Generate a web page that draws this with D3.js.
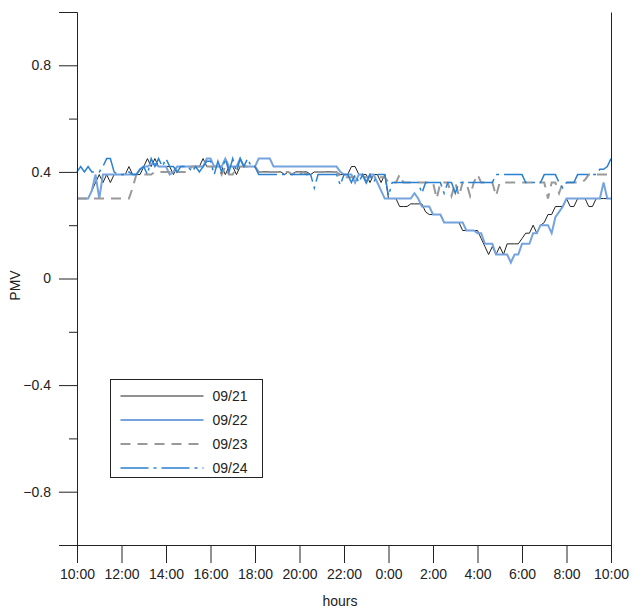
<!DOCTYPE html>
<html>
<head>
<meta charset="utf-8">
<script src="https://cdn.jsdelivr.net/npm/d3@7"></script>
<style>
  body { margin: 0; background: #fff; }
  text { font-family: "Liberation Sans", Arial, sans-serif; fill: #222; }
</style>
</head>
<body>
<div id="chart"></div>
<script>
// PMV readings every 10 minutes, 10:00 -> 10:00 next day (one row per hour)
const s0921 = [
  0.30,0.30,0.30,0.30,0.33,0.36, 0.39,0.36,0.39,0.36,0.39,0.39, 0.39,0.39,0.42,0.39,0.39,0.39,
  0.42,0.45,0.42,0.45,0.42,0.42, 0.42,0.42,0.39,0.42,0.42,0.42, 0.42,0.42,0.42,0.42,0.45,0.42,
  0.42,0.42,0.42,0.42,0.39,0.42, 0.42,0.39,0.42,0.42,0.42,0.42, 0.42,0.40,0.40,0.40,0.40,0.40,
  0.40,0.40,0.39,0.40,0.39,0.40, 0.40,0.40,0.40,0.39,0.40,0.40, 0.40,0.40,0.40,0.40,0.40,0.39,
  0.39,0.39,0.42,0.42,0.39,0.39, 0.39,0.36,0.39,0.39,0.36,0.39, 0.30,0.30,0.30,0.27,0.27,0.27,
  0.28,0.28,0.28,0.28,0.25,0.24, 0.24,0.24,0.24,0.21,0.21,0.21, 0.21,0.21,0.18,0.18,0.18,0.18,
  0.18,0.15,0.12,0.09,0.12,0.09, 0.12,0.09,0.13,0.13,0.13,0.13, 0.15,0.17,0.17,0.20,0.17,0.20,
  0.21,0.24,0.24,0.27,0.27,0.27, 0.30,0.27,0.27,0.30,0.30,0.30, 0.27,0.27,0.30,0.30,0.30,0.30,
  0.30
];
const s0922 = [
  0.30,0.30,0.30,0.30,0.33,0.39, 0.30,0.39,0.39,0.39,0.39,0.39, 0.39,0.39,0.39,0.39,0.39,0.41,
  0.42,0.42,0.43,0.43,0.42,0.42, 0.42,0.39,0.40,0.42,0.42,0.42, 0.42,0.42,0.42,0.42,0.42,0.45,
  0.45,0.42,0.42,0.42,0.45,0.42, 0.42,0.42,0.45,0.42,0.42,0.42, 0.42,0.45,0.45,0.45,0.45,0.42,
  0.42,0.42,0.42,0.42,0.42,0.42, 0.42,0.42,0.42,0.42,0.42,0.42, 0.42,0.42,0.42,0.42,0.42,0.40,
  0.39,0.39,0.39,0.36,0.39,0.39, 0.36,0.39,0.39,0.36,0.33,0.30, 0.30,0.30,0.30,0.30,0.30,0.30,
  0.30,0.32,0.30,0.27,0.27,0.27, 0.24,0.24,0.24,0.21,0.21,0.21, 0.21,0.21,0.21,0.18,0.18,0.18,
  0.17,0.17,0.13,0.13,0.13,0.09, 0.09,0.09,0.09,0.06,0.09,0.09, 0.13,0.13,0.13,0.17,0.17,0.20,
  0.20,0.20,0.17,0.23,0.25,0.27, 0.30,0.30,0.30,0.30,0.30,0.30, 0.30,0.30,0.30,0.30,0.36,0.30,
  0.30
];
const s0923 = [
  0.30,0.30,0.30,0.30,0.30,0.30, 0.30,0.30,0.30,0.30,0.30,0.30, 0.30,0.30,0.30,0.34,0.39,0.39,
  0.39,0.39,0.39,0.40,0.40,0.40, 0.40,0.40,0.39,0.40,0.40,0.40, 0.40,0.42,0.42,0.42,0.42,0.42,
  0.42,0.42,0.42,0.39,0.42,0.39, 0.39,0.42,0.42,0.42,0.42,0.42, 0.42,0.40,0.40,0.40,0.40,0.40,
  0.40,0.40,0.40,0.40,0.39,0.40, 0.39,0.40,0.39,0.40,0.40,0.40, 0.40,0.40,0.40,0.40,0.40,0.38,
  0.38,0.38,0.38,0.38,0.38,0.38, 0.38,0.38,0.38,0.38,0.38,0.38, 0.36,0.36,0.36,0.39,0.36,0.36,
  0.36,0.36,0.36,0.36,0.36,0.36, 0.36,0.30,0.36,0.36,0.36,0.31, 0.36,0.31,0.36,0.36,0.31,0.36,
  0.39,0.36,0.36,0.36,0.36,0.31, 0.36,0.36,0.36,0.36,0.36,0.36, 0.36,0.36,0.36,0.36,0.36,0.36,
  0.36,0.30,0.36,0.36,0.32,0.36, 0.36,0.36,0.36,0.36,0.36,0.37, 0.39,0.39,0.39,0.39,0.39,0.39,
  0.39
];
const s0924 = [
  0.40,0.42,0.40,0.42,0.40,0.40, 0.40,0.42,0.45,0.45,0.40,0.39, 0.39,0.39,0.40,0.39,0.39,0.41,
  0.42,0.39,0.45,0.42,0.45,0.42, 0.45,0.42,0.42,0.40,0.42,0.42, 0.42,0.40,0.42,0.40,0.42,0.44,
  0.44,0.39,0.44,0.40,0.45,0.40, 0.45,0.40,0.45,0.42,0.45,0.42, 0.42,0.39,0.39,0.39,0.39,0.39,
  0.39,0.39,0.39,0.39,0.39,0.39, 0.39,0.39,0.39,0.39,0.34,0.39, 0.39,0.39,0.39,0.39,0.39,0.35,
  0.39,0.39,0.36,0.39,0.36,0.39, 0.36,0.39,0.36,0.39,0.39,0.39, 0.31,0.36,0.36,0.36,0.36,0.36,
  0.36,0.36,0.36,0.32,0.36,0.36, 0.36,0.36,0.36,0.32,0.36,0.36, 0.32,0.36,0.36,0.36,0.36,0.36,
  0.36,0.36,0.36,0.36,0.36,0.39, 0.39,0.39,0.39,0.39,0.39,0.39, 0.39,0.36,0.36,0.36,0.36,0.36,
  0.39,0.39,0.39,0.39,0.36,0.34, 0.36,0.36,0.36,0.39,0.39,0.39, 0.39,0.39,0.39,0.41,0.41,0.42,
  0.45
];

const dayLabels = ["09/21", "09/22", "09/23", "09/24"];
const xTickLabels = ["10:00","12:00","14:00","16:00","18:00","20:00","22:00",
                     "0:00","2:00","4:00","6:00","8:00","10:00"];
const yMajorTicks = [-0.8, -0.4, 0, 0.4, 0.8];
const yMinorTicks = [-1, -0.6, -0.2, 0.2, 0.6, 1];

const width = 632, height = 610;
const margin = {top: 12, right: 21, bottom: 65, left: 77};
const plotW = width - margin.left - margin.right;
const plotH = height - margin.top - margin.bottom;

const styles = [
  {color: "#222222", width: 1,   dash: null},
  {color: "#74a3de", width: 2,   dash: null},
  {color: "#999999", width: 2,   dash: "10,7"},
  {color: "#2a80d0", width: 1.5, dash: "28,5,3,5"}
];

const series = [s0921, s0922, s0923, s0924];

const svg = d3.select("#chart")
  .append("svg")
  .attr("width", width)
  .attr("height", height)
  .append("g")
  .attr("transform", `translate(${margin.left}, ${margin.top})`);

// hours since 10:00
const x = d3.scaleLinear().domain([0, 24]).range([0, plotW]);
const y = d3.scaleLinear().domain([-1, 1]).range([plotH, 0]);

// lines
const line = d3.line()
  .x((d, i) => x(i / 6))
  .y(d => y(d));

series.forEach(function(s, k) {
  svg.append("path")
    .datum(s)
    .attr("fill", "none")
    .attr("stroke", styles[k].color)
    .attr("stroke-width", styles[k].width)
    .attr("stroke-dasharray", styles[k].dash)
    .attr("d", line);
});

// y axis (major + minor)
const yAxis = svg.append("g")
  .call(d3.axisLeft(y).tickValues(yMajorTicks).tickSize(18).tickPadding(8)
    .tickFormat(d3.format("")));
yAxis.select(".domain").attr("stroke", "#222");
yAxis.selectAll("line").attr("stroke", "#222");
yAxis.selectAll("text").style("font-size", "14px").attr("fill", "#222");

const yMinor = svg.append("g")
  .call(d3.axisLeft(y).tickValues(yMinorTicks).tickSize(8).tickFormat(""));
yMinor.select(".domain").remove();
yMinor.selectAll("line").attr("stroke", "#222");

// x axis
const xAxis = svg.append("g")
  .attr("transform", `translate(0, ${plotH})`)
  .call(d3.axisBottom(x).tickValues(d3.range(0, 25, 2)).tickSize(18).tickPadding(6)
    .tickFormat((d, i) => xTickLabels[i]));
xAxis.select(".domain").attr("stroke", "#222");
xAxis.selectAll("line").attr("stroke", "#222");
xAxis.selectAll("text").style("font-size", "14px").attr("fill", "#222");

// right frame line
svg.append("line")
  .attr("x1", plotW + 0.5).attr("x2", plotW + 0.5)
  .attr("y1", 0.5).attr("y2", plotH + 0.5)
  .attr("stroke", "#222");

// axis titles
svg.append("text")
  .attr("x", plotW / 2 - 4)
  .attr("y", plotH + 61)
  .style("text-anchor", "middle")
  .style("font-size", "14px")
  .text("hours");

svg.append("text")
  .attr("transform", `translate(${-57}, ${y(0) + 7}) rotate(-90)`)
  .style("text-anchor", "middle")
  .style("font-size", "14px")
  .text("PMV");

// legend
const legend = svg.append("g").attr("transform", `translate(${110.5 - margin.left}, ${379.5 - margin.top})`);
legend.append("rect")
  .attr("width", 152).attr("height", 98)
  .attr("fill", "#fff")
  .attr("stroke", "#222");

dayLabels.forEach(function(lbl, k) {
  const ly = 16.5 + k * 24;
  legend.append("line")
    .attr("x1", 10).attr("x2", 93)
    .attr("y1", ly).attr("y2", ly)
    .attr("stroke", styles[k].color)
    .attr("stroke-width", styles[k].width)
    .attr("stroke-dasharray", styles[k].dash);
  legend.append("text")
    .attr("x", 102)
    .attr("y", ly + 5)
    .style("font-size", "14px")
    .text(lbl);
});
</script>
</body>
</html>
